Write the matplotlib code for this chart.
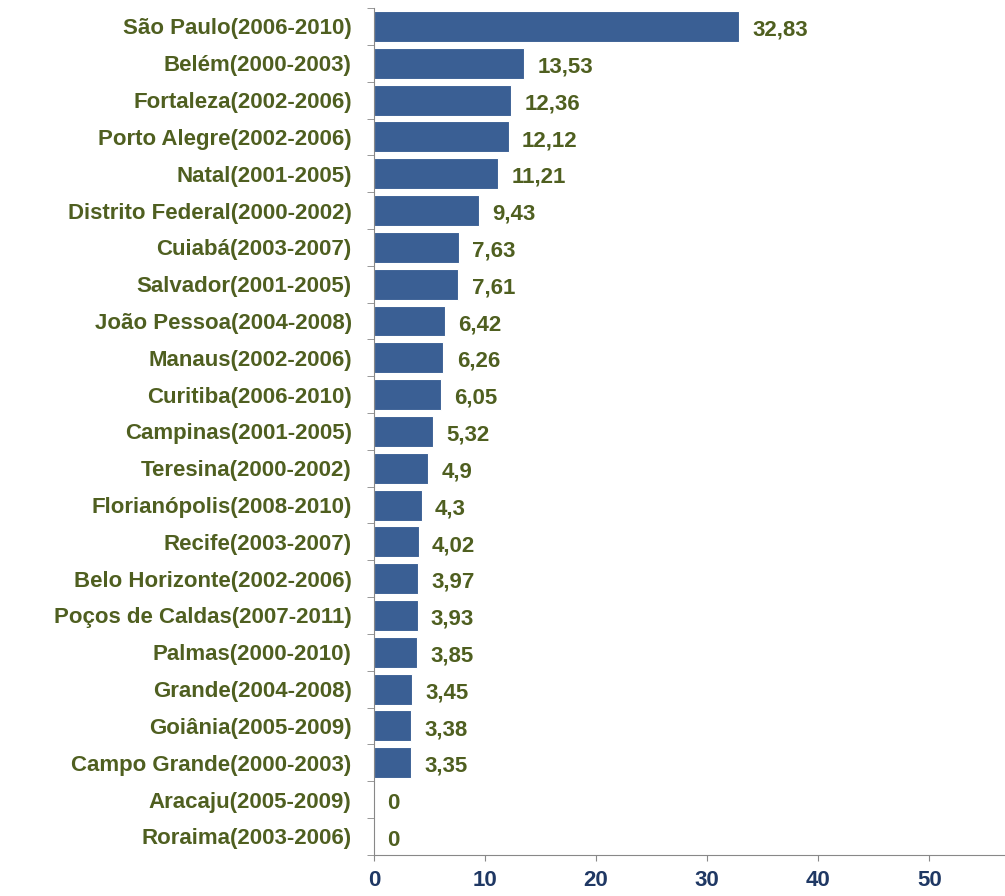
import matplotlib

matplotlib.use('Agg')

import matplotlib.pyplot as plt
import numpy as np

cities = ['São Paulo(2006-2010)', 'Belém(2000-2003)', 'Fortaleza(2002-2006)',
          'Porto Alegre(2002-2006)', 'Natal(2001-2005)', 'Distrito Federal(2000-2002)',
          'Cuiabá(2003-2007)', 'Salvador(2001-2005)', 'João Pessoa(2004-2008)',
          'Manaus(2002-2006)', 'Curitiba(2006-2010)', 'Campinas(2001-2005)',
          'Teresina(2000-2002)', 'Florianópolis(2008-2010)', 'Recife(2003-2007)',
          'Belo Horizonte(2002-2006)', 'Poços de Caldas(2007-2011)', 'Palmas(2000-2010)',
          'Grande(2004-2008)', 'Goiânia(2005-2009)', 'Campo Grande(2000-2003)',
          'Aracaju(2005-2009)', 'Roraima(2003-2006)']
values = [32.83, 13.53, 12.36, 12.12, 11.21, 9.43, 7.63, 7.61, 6.42, 6.26, 6.05,
          5.32, 4.9, 4.3, 4.02, 3.97, 3.93, 3.85, 3.45, 3.38, 3.35, 0, 0]
value_labels = ['32,83', '13,53', '12,36', '12,12', '11,21', '9,43', '7,63', '7,61',
                '6,42', '6,26', '6,05', '5,32', '4,9', '4,3', '4,02', '3,97', '3,93',
                '3,85', '3,45', '3,38', '3,35', '0', '0']
xticks = [0, 10, 20, 30, 40, 50]

bar_color = '#3A5F94'
label_color = '#4F5F20'
tick_color = '#1F3864'

plt.rcParams['font.family'] = ['Liberation Sans', 'DejaVu Sans']

fig = plt.figure(figsize=(10.05, 8.96), dpi=100)
ax = fig.add_axes([0.372, 0.046, 0.628, 0.945])

y = np.arange(len(cities))
ax.barh(y, values, height=0.84, color=bar_color, edgecolor='white', linewidth=0.8)

# value labels next to each bar
for yi, v, lab in zip(y, values, value_labels):
    ax.text(v + 1.2, yi + 0.1, lab, ha='left', va='center', fontsize=16,
            fontweight='bold', color=label_color)

ax.set_ylim(len(cities) - 0.5, -0.5)
ax.set_xlim(0, 56.8)

ax.set_yticks(y)
ax.set_yticklabels(cities, fontsize=16, fontweight='bold', color=label_color)
ax.set_yticks(np.arange(-0.5, len(cities), 1), minor=True)
ax.tick_params(axis='y', which='major', length=0, pad=16)
ax.tick_params(axis='y', which='minor', length=5, color='#888888')

ax.set_xticks(xticks)
ax.set_xticklabels([str(t) for t in xticks], fontsize=16, fontweight='bold', color=tick_color)
ax.tick_params(axis='x', length=4, color='#888888', pad=7)

for side in ['top', 'right']:
    ax.spines[side].set_visible(False)
ax.spines['left'].set_color('#888888')
ax.spines['bottom'].set_color('#888888')

fig.savefig('out.png', dpi=100)
